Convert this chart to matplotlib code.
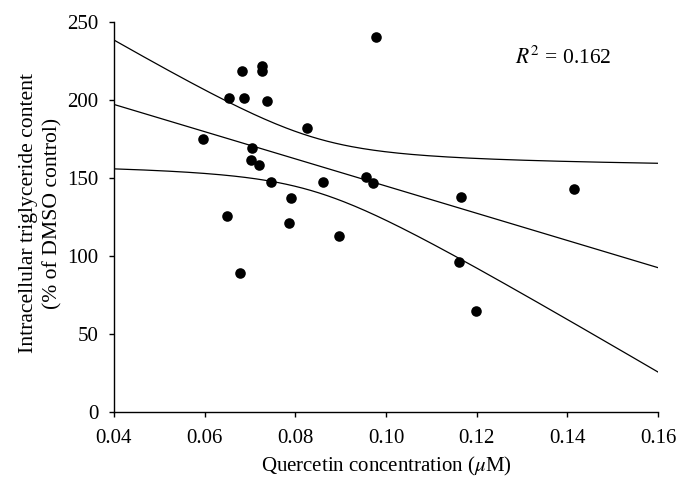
import numpy as np
import matplotlib
matplotlib.use("Agg")
import matplotlib.pyplot as plt

plt.rcParams['font.family'] = ['Liberation Serif', 'DejaVu Serif']
plt.rcParams['mathtext.fontset'] = 'stix'

# Data
quercetin = [0.0979, 0.0682, 0.0727, 0.0727, 0.0654, 0.0687, 0.0737, 0.0826,
             0.0597, 0.0705, 0.0702, 0.0720, 0.0746, 0.0861, 0.0955, 0.0972,
             0.0790, 0.0649, 0.0785, 0.0897, 0.0678, 0.1165, 0.1415, 0.1160,
             0.1199]
triglyceride = [240.6, 218.8, 222.0, 218.8, 201.3, 201.1, 199.6, 181.8,
                174.8, 169.4, 161.5, 158.3, 147.4, 147.2, 150.6, 146.6,
                137.2, 125.8, 121.0, 113.0, 89.3, 138.0, 143.2, 96.2,
                64.9]
x_ticks = [0.04, 0.06, 0.08, 0.10, 0.12, 0.14, 0.16]
x_tick_labels = ['0.04', '0.06', '0.08', '0.10', '0.12', '0.14', '0.16']
y_ticks = [0, 50, 100, 150, 200, 250]
r2_label = r'$R^2$ = 0.162'

x = np.array(quercetin)
y = np.array(triglyceride)
n = len(x)
slope, intercept = np.polyfit(x, y, 1)
resid = y - (slope * x + intercept)
s = np.sqrt(np.sum(resid ** 2) / (n - 2))
sxx = np.sum((x - x.mean()) ** 2)
t = 2.069  # t(0.975, 23)
xf = np.linspace(x_ticks[0], x_ticks[-1], 200)
yf = slope * xf + intercept
half = t * s * np.sqrt(1.0 / n + (xf - x.mean()) ** 2 / sxx)

fig = plt.figure(figsize=(6.9, 4.96), dpi=100)
ax = fig.add_axes([0.1652, 0.1694, 0.7884, 0.7862])

ax.plot(xf, yf, color='black', lw=0.9)
ax.plot(xf, yf + half, color='black', lw=0.9)
ax.plot(xf, yf - half, color='black', lw=0.9)
ax.scatter(x, y, s=58, color='black', zorder=3, linewidths=0)

ax.set_xlim(x_ticks[0], x_ticks[-1])
ax.set_ylim(y_ticks[0], y_ticks[-1])
ax.set_xticks(x_ticks)
ax.set_xticklabels(x_tick_labels)
ax.set_yticks(y_ticks)
ax.tick_params(direction='out', length=3.6, width=1, labelsize=15)
ax.tick_params(axis='x', pad=9)
ax.tick_params(axis='y', pad=7.5)
for sp in ['top', 'right']:
    ax.spines[sp].set_visible(False)
for sp in ['left', 'bottom']:
    ax.spines[sp].set_linewidth(1)

fig.text(386 / 690, 1 - 466 / 496, r'Quercetin concentration ($\mu$M)',
         fontsize=15, ha='center', va='center')
fig.text(40.5 / 690, 1 - 213 / 496,
         'Intracellular triglyceride content\n(% of DMSO control)',
         fontsize=15.6, ha='center', va='center', rotation=90,
         linespacing=1.35, multialignment='center')
ax.text(0.1285, 227.0, r2_label, fontsize=15.5, va='center', ha='left')

fig.savefig('out.png', dpi=100)
